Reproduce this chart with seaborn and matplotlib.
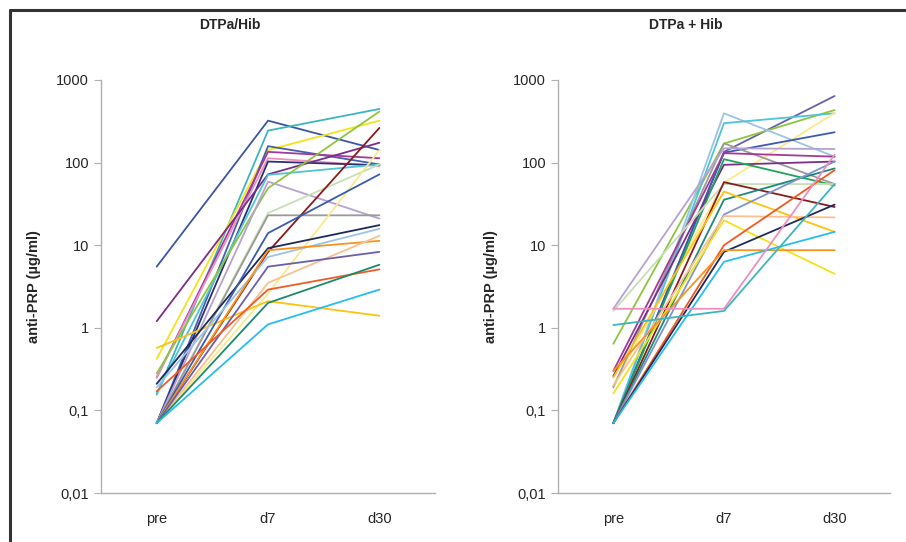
import matplotlib
matplotlib.use("Agg")
import matplotlib.pyplot as plt
from matplotlib.lines import Line2D
from matplotlib.ticker import FixedLocator, FuncFormatter
import seaborn as sns
import pandas as pd

times = ["pre", "d7", "d30"]
y_ticks = [0.01, 0.1, 1, 10, 100, 1000]
y_tick_labels = ["0,01", "0,1", "1", "10", "100", "1000"]

# DTPa/Hib: (pre, d7, d30) per subject
left_pre = [5.5, 0.155, 0.42, 0.07, 0.25, 0.25, 0.07, 1.2, 0.16, 0.28, 0.07, 0.07, 0.07,
            0.07, 0.07, 0.57, 0.21, 0.07, 0.19, 0.07, 0.07, 0.07, 0.17, 0.07, 0.07]
left_d7 = [322, 244, 142, 158, 135, 113, 103, 72, 71, 49, 59, 24.5, 23,
           8.3, 2.6, 2.1, 9.2, 14, 7.2, 8.7, 3.5, 5.5, 2.9, 2.0, 1.1]
left_d30 = [142, 446, 322, 95, 113, 91, 93, 174, 95, 415, 21, 95, 23,
            263, 142, 1.4, 17.5, 72, 15.8, 11.3, 13, 8.3, 5.1, 5.8, 2.9]
left_colors = ["#3B56A6", "#3CB5BF", "#F4E21A", "#4460AD", "#A4399A", "#EE8FBF", "#2B3073",
               "#7B2D8A", "#4FC3D8", "#8CC63F", "#B7A0D2", "#C5E0B4", "#9A9A9A",
               "#8B1A1A", "#FAE98C", "#FFC20E", "#1F2A5C", "#3A5BAE", "#9DC3E6",
               "#F7941D", "#FBC08F", "#6A5FA8", "#F15A24", "#1B8A6B", "#27BDEF"]

# DTPa + Hib
right_pre = [0.07, 0.64, 0.07, 0.07, 0.2, 0.07, 0.19, 1.7, 0.3, 0.26, 0.07, 1.6,
             0.07, 0.07, 0.25, 0.07, 0.2, 0.16, 0.07, 0.07, 0.3, 0.07, 1.7, 1.08]
right_d7 = [135, 170, 395, 300, 57, 132, 171, 149, 130, 94, 110, 55,
            58, 35.5, 44.6, 23.5, 22.5, 20, 10, 8.3, 8.7, 6.3, 1.7, 1.6]
right_d30 = [640, 433, 118, 395, 400, 233, 55, 146, 118, 103, 53, 55,
             29, 85, 14.5, 103, 21.7, 4.5, 81, 31, 8.7, 14.5, 125, 55]
right_colors = ["#6A5FA8", "#8CC63F", "#9DC3E6", "#4FC3D8", "#FAE98C", "#3A5BAE", "#9A9A9A",
                "#B7A0D2", "#A4399A", "#7B2D8A", "#1FA35B", "#C5E0B4",
                "#8B1A1A", "#1B8A7A", "#FFC20E", "#7F95D1", "#FBC08F", "#F4E21A",
                "#F15A24", "#1F2A5C", "#F7941D", "#27BDEF", "#EE8FBF", "#3CB5BF"]


def long_table(pre, d7, d30):
    rows = []
    for i, vals in enumerate(zip(pre, d7, d30)):
        for t, v in enumerate(vals):
            rows.append({"subject": i, "t": t, "value": v})
    return pd.DataFrame(rows)


sns.set_style("white")
plt.rcParams["font.family"] = ["Liberation Sans", "DejaVu Sans"]

fig = plt.figure(figsize=(9.06, 5.42), dpi=100)
ax1 = fig.add_axes([0.1115, 0.0904, 0.3687, 0.762])
ax2 = fig.add_axes([0.6159, 0.0904, 0.3664, 0.762])

panels = [
    (ax1, long_table(left_pre, left_d7, left_d30), left_colors, "DTPa/Hib", 0.254),
    (ax2, long_table(right_pre, right_d7, right_d30), right_colors, "DTPa + Hib", 0.757),
]

axis_grey = "#B0B0B0"
for ax, df, colors, title, tx in panels:
    sns.lineplot(data=df, x="t", y="value", hue="subject", palette=colors,
                 estimator=None, legend=False, linewidth=1.3, ax=ax)
    ax.set_yscale("log")
    ax.set_ylim(0.01, 1000)
    ax.set_xlim(-0.5, 2.5)
    ax.yaxis.set_major_locator(FixedLocator(y_ticks))
    ax.yaxis.set_major_formatter(FuncFormatter(lambda v, p: y_tick_labels[y_ticks.index(v)] if v in y_ticks else ""))
    ax.yaxis.set_minor_locator(FixedLocator([]))
    ax.set_xticks([-0.5, 0.5, 1.5, 2.5])
    ax.set_xticklabels([])
    ax.set_xticks([0, 1, 2], minor=True)
    ax.set_xticklabels(times, minor=True)
    ax.tick_params(axis="x", which="minor", length=0, pad=14, labelsize=10.5)
    ax.tick_params(axis="x", which="major", length=4, color=axis_grey, direction="out")
    ax.tick_params(axis="y", which="major", length=5, color=axis_grey, direction="out",
                   labelsize=10.5, left=True)
    for side in ["top", "right"]:
        ax.spines[side].set_visible(False)
    for side in ["left", "bottom"]:
        ax.spines[side].set_color(axis_grey)
        ax.spines[side].set_linewidth(1.0)
    ax.set_xlabel("")
    ax.set_ylabel("anti-PRP (µg/ml)", fontsize=10.5, fontweight="bold")
    ax.yaxis.set_label_coords(-0.18, 0.5)
    fig.text(tx, 0.953, title, ha="center", va="center", fontsize=10, fontweight="bold")

# outer frame (left and top edges)
fig.add_artist(Line2D([0.0105, 1.0], [0.982, 0.982], color="#333333", linewidth=2.2,
                      transform=fig.transFigure))
fig.add_artist(Line2D([0.0105, 0.0105], [0.0, 0.982], color="#333333", linewidth=2.2,
                      transform=fig.transFigure))

fig.savefig("out.png", dpi=100)
